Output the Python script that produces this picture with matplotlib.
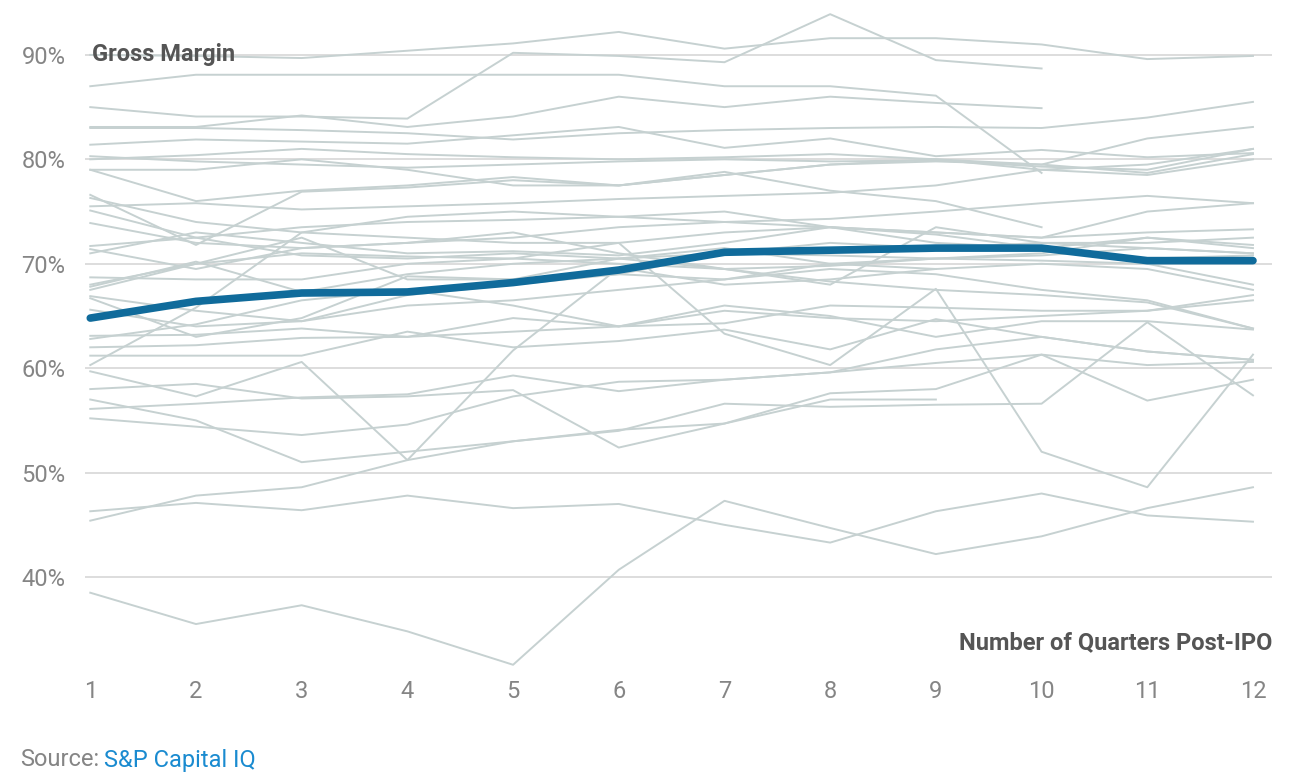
import matplotlib.pyplot as plt
import numpy as np

nan = np.nan
quarters = [1, 2, 3, 4, 5, 6, 7, 8, 9, 10, 11, 12]
y_ticks = [40, 50, 60, 70, 80, 90]

# median of the group
median_margin = [64.8, 66.4, 67.2, 67.3, 68.2, 69.4, 71.1, 71.3, 71.5, 71.5, 70.3, 70.3]

# single companies, gross margin by quarter (%)
upper_lines = [
    [90.0, 89.9, 89.7, 90.4, 91.1, 92.2, 90.6, 91.6, 91.6, 91.0, 89.6, 89.9],
    [87.0, 88.1, 88.1, 88.1, 88.1, 88.1, 87.0, 87.0, 86.1, 78.7, nan, nan],
    [85.0, 84.1, 84.1, 83.9, 90.2, 89.9, 89.3, 93.9, 89.5, 88.7, nan, nan],
    [83.1, 83.1, 84.2, 83.1, 84.1, 86.0, 85.0, 86.0, 85.4, 84.9, nan, nan],
    [83.0, 83.0, 82.8, 82.5, 81.9, 82.5, 82.8, 83.0, 83.1, 83.0, 84.0, 85.5],
    [81.4, 81.9, 81.7, 81.5, 82.3, 83.1, 81.1, 82.0, 80.3, 80.9, 80.2, 80.6],
    [80.0, 80.4, 81.0, 80.5, 80.2, 80.0, 80.2, 80.5, 80.0, 79.5, 82.0, 83.1],
    [80.3, 79.8, 79.5, 79.2, 79.5, 79.8, 80.0, 79.8, 79.9, 79.3, 79.0, 81.0],
    [79.0, 79.0, 80.0, 79.0, 77.5, 77.5, 78.5, 79.5, 79.8, 79.5, 78.7, 80.5],
]

middle_lines = [
    [79.0, 76.0, 77.0, 77.5, 78.3, 77.5, 78.8, 77.0, 76.0, 73.5, nan, nan],
    [76.6, 71.8, 76.9, 77.3, 78.0, 77.5, 78.5, 79.5, 80.0, 79.0, 78.5, 80.0],
    [76.3, 74.0, 73.0, 74.5, 75.0, 74.5, 74.0, 73.5, 73.0, 72.5, 73.0, 73.3],
    [75.5, 75.8, 75.2, 75.5, 75.8, 76.2, 76.5, 76.8, 77.5, 79.0, 79.5, 81.0],
    [75.1, 72.5, 70.8, 70.5, 71.0, 70.5, 71.0, 70.8, 70.5, 70.8, 71.5, 71.0],
    [73.9, 72.0, 71.5, 72.0, 72.5, 73.5, 74.0, 74.3, 75.0, 75.8, 76.5, 75.8],
    [71.7, 72.5, 73.5, 74.0, 74.2, 74.5, 75.0, 73.5, 73.0, 72.5, 75.0, 75.8],
    [71.4, 69.5, 71.5, 72.0, 73.0, 71.0, 69.5, 68.0, 73.5, 72.0, 71.5, 71.0],
    [71.0, 73.0, 72.0, 71.0, 71.2, 70.8, 72.0, 73.5, 72.8, 71.5, 70.5, 70.8],
    [68.7, 68.5, 68.5, 70.0, 70.5, 70.0, 69.5, 69.8, 70.5, 71.0, 72.5, 71.5],
    [68.0, 70.0, 72.5, 68.5, 68.5, 69.0, 68.5, 69.5, 69.0, 67.5, 66.5, 63.8],
    [67.8, 70.2, 67.3, 69.0, 70.0, 70.5, 71.5, 70.0, 69.5, 70.0, 69.5, 67.5],
    [66.9, 65.5, 64.5, 67.0, 68.0, 69.0, 71.0, 72.0, 71.5, 72.0, 72.0, 72.5],
    [66.7, 63.0, 64.8, 68.8, 68.5, 70.5, 69.5, 68.3, 67.5, 67.0, 66.3, 63.8],
    [65.6, 64.0, 64.5, 66.0, 66.5, 67.5, 68.5, 70.0, 70.5, 70.3, 70.0, 68.0],
    [63.1, 63.2, 63.8, 63.0, 64.8, 64.0, 64.3, 66.0, 65.8, 65.5, 65.5, 67.0],
    [62.8, 64.2, 66.5, 67.5, 66.0, 64.0, 65.5, 64.8, 64.5, 65.0, 65.5, 66.5],
    [62.0, 62.2, 62.9, 63.0, 63.5, 64.0, 66.0, 65.0, 63.0, 64.5, 64.5, 63.7],
    [61.2, 61.2, 61.2, 63.5, 62.0, 62.6, 63.7, 61.8, 64.7, 63.0, 61.6, 60.8],
    [60.3, 65.8, 73.0, 72.5, 72.0, 72.0, 73.0, 73.5, 72.0, 71.5, 72.5, 71.8],
    [67.5, 70.0, 71.0, 70.7, 70.5, 72.0, 63.3, 60.3, 67.6, 52.0, 48.6, 61.3],
]

lower_lines = [
    [59.7, 57.3, 60.6, 51.2, 61.7, 69.6, 68.0, 68.5, 69.5, nan, nan, nan],
    [58.0, 58.5, 57.1, 57.3, 57.9, 52.4, 54.7, 57.6, 58.0, 61.3, 56.9, 58.9],
    [56.1, 56.6, 57.2, 57.5, 59.3, 57.8, 58.9, 59.6, 61.8, 63.0, 61.6, 60.8],
    [55.2, 54.4, 53.6, 54.6, 57.3, 58.7, 58.9, 59.6, 60.5, 61.3, 60.3, 60.6],
    [57.0, 55.0, 51.0, 52.0, 53.0, 54.1, 54.7, 57.0, 57.0, nan, nan, nan],
    [45.4, 47.8, 48.6, 51.2, 53.0, 54.0, 56.6, 56.3, 56.5, 56.6, 64.4, 57.4],
    [46.3, 47.1, 46.4, 47.8, 46.6, 47.0, 45.0, 43.3, 46.3, 48.0, 45.9, 45.3],
    [38.5, 35.5, 37.3, 34.8, 31.6, 40.7, 47.3, 44.7, 42.2, 43.9, 46.6, 48.6],
]

plt.rcParams['font.family'] = ['Roboto', 'DejaVu Sans']

fig = plt.figure(figsize=(12.96, 7.8), dpi=100)
ax = fig.add_axes([85 / 1296, 110 / 780, (1272 - 85) / 1296, 660 / 780])

for line in upper_lines + middle_lines + lower_lines:
    ax.plot(quarters, line, color='#c6d1d1', linewidth=1.4, zorder=2)

ax.plot(quarters, median_margin, color='#106b9b', linewidth=5.5,
        solid_capstyle='round', solid_joinstyle='round', zorder=3)

ax.set_xlim(0.95, 12.18)
ax.set_ylim(31.1, 94.3)

for y in y_ticks:
    ax.axhline(y, color='#dadada', linewidth=1.3, zorder=1)

ax.set_yticks(y_ticks)
ax.set_yticklabels([f"{y}%" for y in y_ticks])
ax.set_xticks(quarters)
ax.tick_params(axis='both', length=0, labelsize=17, labelcolor='#858585')
ax.tick_params(axis='y', pad=14)
ax.tick_params(axis='x', pad=7)
for s in ax.spines.values():
    s.set_visible(False)

ax.text(1.02, 90, "Gross Margin", fontsize=17, fontweight='bold',
        color='#555555', va='center', ha='left', zorder=4)
ax.text(1.0, 33.7, "Number of Quarters Post-IPO", fontsize=17, fontweight='bold',
        color='#555555', va='center', ha='right',
        transform=ax.get_yaxis_transform())

fig.text(20 / 1296, 1 - 760 / 780, "Source:", fontsize=17, color='#858585', va='center')
fig.text(104 / 1296, 1 - 760 / 780, "S&P Capital IQ", fontsize=17, color='#1a8bd0', va='center')

plt.savefig("out.png", dpi=100)
